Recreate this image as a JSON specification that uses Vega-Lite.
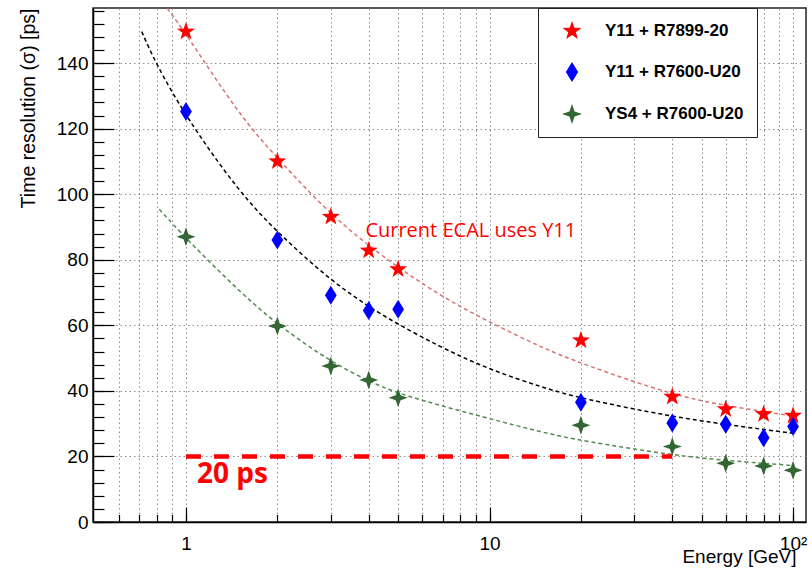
{
  "$schema": "https://vega.github.io/schema/vega-lite/v6.json",
  "width": 713,
  "height": 514,
  "autosize": {"type": "none"},
  "padding": {"left": 93, "top": 8, "right": 6, "bottom": 47},
  "background": "white",
  "config": {
    "font": "Liberation Sans",
    "view": {"stroke": "#222222", "strokeWidth": 1.5},
    "axis": {
      "domainColor": "#000000",
      "domainWidth": 1.5,
      "tickColor": "#000000",
      "tickWidth": 1.2,
      "labelColor": "#000000",
      "titleColor": "#000000",
      "gridColor": "#8c8c8c",
      "gridDash": [1.5, 3],
      "gridWidth": 1,
      "labelFont": "Liberation Sans",
      "titleFont": "Liberation Sans",
      "titleFontWeight": "normal",
      "labelFlush": false,
      "labelOverlap": false
    },
    "legend": {
      "orient": "none",
      "legendX": 445,
      "legendY": 0,
      "fillColor": "white",
      "strokeColor": "#222222",
      "padding": 13,
      "rowPadding": 22,
      "symbolSize": 400,
      "symbolOffset": 11,
      "labelOffset": 23,
      "symbolStrokeWidth": 0,
      "labelFont": "Liberation Sans",
      "labelFontSize": 17,
      "labelFontWeight": "bold",
      "labelColor": "#000000"
    }
  },
  "datasets": {
    "meas": [
      {"series": "Y11 + R7899-20", "energy": 1, "sigma": 149.6},
      {"series": "Y11 + R7899-20", "energy": 2, "sigma": 110},
      {"series": "Y11 + R7899-20", "energy": 3, "sigma": 93.1},
      {"series": "Y11 + R7899-20", "energy": 4, "sigma": 82.8},
      {"series": "Y11 + R7899-20", "energy": 5, "sigma": 77.1},
      {"series": "Y11 + R7899-20", "energy": 20, "sigma": 55.4},
      {"series": "Y11 + R7899-20", "energy": 40, "sigma": 38.2},
      {"series": "Y11 + R7899-20", "energy": 60, "sigma": 34.4},
      {"series": "Y11 + R7899-20", "energy": 80, "sigma": 32.9},
      {"series": "Y11 + R7899-20", "energy": 100, "sigma": 32.4},
      {"series": "Y11 + R7600-U20", "energy": 1, "sigma": 125.2},
      {"series": "Y11 + R7600-U20", "energy": 2, "sigma": 86},
      {"series": "Y11 + R7600-U20", "energy": 3, "sigma": 69.2},
      {"series": "Y11 + R7600-U20", "energy": 4, "sigma": 64.5},
      {"series": "Y11 + R7600-U20", "energy": 5, "sigma": 64.9},
      {"series": "Y11 + R7600-U20", "energy": 20, "sigma": 36.5},
      {"series": "Y11 + R7600-U20", "energy": 40, "sigma": 30.2},
      {"series": "Y11 + R7600-U20", "energy": 60, "sigma": 29.8},
      {"series": "Y11 + R7600-U20", "energy": 80, "sigma": 25.7},
      {"series": "Y11 + R7600-U20", "energy": 100, "sigma": 29.1},
      {"series": "YS4 + R7600-U20", "energy": 1, "sigma": 87},
      {"series": "YS4 + R7600-U20", "energy": 2, "sigma": 59.8},
      {"series": "YS4 + R7600-U20", "energy": 3, "sigma": 47.6},
      {"series": "YS4 + R7600-U20", "energy": 4, "sigma": 43.3},
      {"series": "YS4 + R7600-U20", "energy": 5, "sigma": 37.9},
      {"series": "YS4 + R7600-U20", "energy": 20, "sigma": 29.5},
      {"series": "YS4 + R7600-U20", "energy": 40, "sigma": 23},
      {"series": "YS4 + R7600-U20", "energy": 60, "sigma": 17.9},
      {"series": "YS4 + R7600-U20", "energy": 80, "sigma": 17.1},
      {"series": "YS4 + R7600-U20", "energy": 100, "sigma": 15.8}
    ],
    "fits": [
      {"series": "Y11 + R7899-20", "energy": 0.868, "sigma": 156.7},
      {"series": "Y11 + R7899-20", "energy": 1, "sigma": 149},
      {"series": "Y11 + R7899-20", "energy": 1.5, "sigma": 124},
      {"series": "Y11 + R7899-20", "energy": 2, "sigma": 111},
      {"series": "Y11 + R7899-20", "energy": 3, "sigma": 93.5},
      {"series": "Y11 + R7899-20", "energy": 4.5, "sigma": 80.5},
      {"series": "Y11 + R7899-20", "energy": 7, "sigma": 68.5},
      {"series": "Y11 + R7899-20", "energy": 10, "sigma": 61},
      {"series": "Y11 + R7899-20", "energy": 15, "sigma": 53},
      {"series": "Y11 + R7899-20", "energy": 20, "sigma": 48.4},
      {"series": "Y11 + R7899-20", "energy": 40, "sigma": 38.7},
      {"series": "Y11 + R7899-20", "energy": 60, "sigma": 35.5},
      {"series": "Y11 + R7899-20", "energy": 80, "sigma": 33.7},
      {"series": "Y11 + R7899-20", "energy": 100, "sigma": 32.3},
      {"series": "Y11 + R7600-U20", "energy": 0.715, "sigma": 149.6},
      {"series": "Y11 + R7600-U20", "energy": 0.79, "sigma": 140.4},
      {"series": "Y11 + R7600-U20", "energy": 1, "sigma": 123.5},
      {"series": "Y11 + R7600-U20", "energy": 1.5, "sigma": 100.5},
      {"series": "Y11 + R7600-U20", "energy": 2, "sigma": 88.4},
      {"series": "Y11 + R7600-U20", "energy": 3, "sigma": 73.5},
      {"series": "Y11 + R7600-U20", "energy": 4.4, "sigma": 63},
      {"series": "Y11 + R7600-U20", "energy": 7, "sigma": 53},
      {"series": "Y11 + R7600-U20", "energy": 10, "sigma": 46.5},
      {"series": "Y11 + R7600-U20", "energy": 15, "sigma": 41},
      {"series": "Y11 + R7600-U20", "energy": 20, "sigma": 37.7},
      {"series": "Y11 + R7600-U20", "energy": 40, "sigma": 32.1},
      {"series": "Y11 + R7600-U20", "energy": 60, "sigma": 29.8},
      {"series": "Y11 + R7600-U20", "energy": 80, "sigma": 28.2},
      {"series": "Y11 + R7600-U20", "energy": 100, "sigma": 27.1},
      {"series": "YS4 + R7600-U20", "energy": 0.817, "sigma": 95.4},
      {"series": "YS4 + R7600-U20", "energy": 1, "sigma": 86.5},
      {"series": "YS4 + R7600-U20", "energy": 1.5, "sigma": 70.3},
      {"series": "YS4 + R7600-U20", "energy": 2, "sigma": 60.2},
      {"series": "YS4 + R7600-U20", "energy": 3, "sigma": 48.8},
      {"series": "YS4 + R7600-U20", "energy": 4, "sigma": 43},
      {"series": "YS4 + R7600-U20", "energy": 5, "sigma": 39},
      {"series": "YS4 + R7600-U20", "energy": 10, "sigma": 31.5},
      {"series": "YS4 + R7600-U20", "energy": 15, "sigma": 27.3},
      {"series": "YS4 + R7600-U20", "energy": 20, "sigma": 24.8},
      {"series": "YS4 + R7600-U20", "energy": 40, "sigma": 20.4},
      {"series": "YS4 + R7600-U20", "energy": 60, "sigma": 18.8},
      {"series": "YS4 + R7600-U20", "energy": 80, "sigma": 17.9},
      {"series": "YS4 + R7600-U20", "energy": 100, "sigma": 17.2}
    ]
  },
  "resolve": {"axis": {"x": "independent", "y": "independent"}},
  "layer": [
    {
      "data": {"name": "fits"},
      "transform": [{"filter": "datum.series === 'Y11 + R7899-20'"}],
      "mark": {"type": "line", "strokeDash": [4, 3], "strokeWidth": 1.5, "interpolate": "basis", "color": "#d97373"},
      "encoding": {
        "x": {
          "field": "energy", "type": "quantitative",
          "scale": {"type": "log", "domain": [0.494, 110.3], "nice": false},
          "axis": {
            "orient": "bottom",
            "values": [0.6, 0.7, 0.8, 0.9, 1, 2, 3, 4, 5, 6, 7, 8, 9, 10, 20, 30, 40, 50, 60, 70, 80, 90, 100],
            "tickSize": -7.5, "grid": true, "labels": false, "title": null, "domain": true
          }
        },
        "y": {
          "field": "sigma", "type": "quantitative",
          "scale": {"domain": [0, 156.8], "nice": false, "zero": false},
          "axis": {
            "orient": "left",
            "values": [0, 4, 8, 12, 16, 20, 24, 28, 32, 36, 40, 44, 48, 52, 56, 60, 64, 68, 72, 76, 80, 84, 88, 92, 96, 100, 104, 108, 112, 116, 120, 124, 128, 132, 136, 140, 144, 148, 152, 156],
            "tickSize": -11, "grid": false, "labels": false, "title": null, "domain": true
          }
        }
      }
    },
    {
      "data": {"name": "fits"},
      "transform": [{"filter": "datum.series === 'Y11 + R7600-U20'"}],
      "mark": {"type": "line", "strokeDash": [4, 3], "strokeWidth": 1.5, "interpolate": "basis", "color": "#000000"},
      "encoding": {
        "x": {"field": "energy", "type": "quantitative", "scale": {"type": "log", "domain": [0.494, 110.3], "nice": false}, "axis": null},
        "y": {"field": "sigma", "type": "quantitative", "scale": {"domain": [0, 156.8], "nice": false, "zero": false}, "axis": null}
      }
    },
    {
      "data": {"name": "fits"},
      "transform": [{"filter": "datum.series === 'YS4 + R7600-U20'"}],
      "mark": {"type": "line", "strokeDash": [4, 3], "strokeWidth": 1.5, "interpolate": "basis", "color": "#4f8a4f"},
      "encoding": {
        "x": {"field": "energy", "type": "quantitative", "scale": {"type": "log", "domain": [0.494, 110.3], "nice": false}, "axis": null},
        "y": {"field": "sigma", "type": "quantitative", "scale": {"domain": [0, 156.8], "nice": false, "zero": false}, "axis": null}
      }
    },
    {
      "data": {"values": [{"from": 1, "to": 40, "level": 20}]},
      "mark": {"type": "rule", "color": "#ff0000", "strokeWidth": 4.5, "strokeDash": [15, 13]},
      "encoding": {
        "x": {"field": "from", "type": "quantitative", "scale": {"type": "log", "domain": [0.494, 110.3], "nice": false}, "axis": null},
        "x2": {"field": "to"},
        "y": {"field": "level", "type": "quantitative", "scale": {"domain": [0, 156.8], "nice": false, "zero": false}, "axis": null}
      }
    },
    {
      "data": {"name": "meas"},
      "mark": {"type": "point", "filled": true, "opacity": 1, "size": 360, "strokeWidth": 0},
      "encoding": {
        "x": {
          "field": "energy", "type": "quantitative",
          "scale": {"type": "log", "domain": [0.494, 110.3], "nice": false},
          "axis": {
            "orient": "bottom", "values": [1, 10, 100],
            "tickSize": -15, "grid": false, "domain": false,
            "labelExpr": "datum.value >= 100 ? '10²' : format(datum.value, 'd')",
            "labelFontSize": 19, "labelPadding": 27,
            "title": "Energy [GeV]", "titleFontSize": 19,
            "titleAnchor": "end", "titleAlign": "right", "titleBaseline": "alphabetic",
            "titleX": 703, "titleY": 40
          }
        },
        "y": {
          "field": "sigma", "type": "quantitative",
          "scale": {"domain": [0, 156.8], "nice": false, "zero": false},
          "axis": {
            "orient": "left", "values": [0, 20, 40, 60, 80, 100, 120, 140],
            "tickSize": -21, "grid": true, "domain": false,
            "labelFontSize": 19, "labelPadding": 26,
            "title": "Time resolution (σ) [ps]", "titleFontSize": 19.5,
            "titleAngle": -90, "titleAnchor": "end", "titleAlign": "right", "titleBaseline": "alphabetic",
            "titleX": -59, "titleY": 0
          }
        },
        "color": {
          "field": "series", "type": "nominal",
          "scale": {"domain": ["Y11 + R7899-20", "Y11 + R7600-U20", "YS4 + R7600-U20"], "range": ["#ff0000", "#0000ff", "#336633"]},
          "legend": {"title": null, "labelExpr": "datum.label + '        '"}
        },
        "shape": {
          "field": "series", "type": "nominal",
          "scale": {
            "domain": ["Y11 + R7899-20", "Y11 + R7600-U20", "YS4 + R7600-U20"],
            "range": [
              "M0,-1L0.235,-0.324L0.951,-0.309L0.38,0.124L0.588,0.809L0,0.4L-0.588,0.809L-0.38,0.124L-0.951,-0.309L-0.235,-0.324Z",
              "M0,-1L0.62,0L0,1L-0.62,0Z",
              "M0,-1L0.26,-0.26L1,0L0.26,0.26L0,1L-0.26,0.26L-1,0L-0.26,-0.26Z"
            ]
          },
          "legend": {"title": null, "labelExpr": "datum.label + '        '"}
        }
      }
    },
    {
      "data": {"values": [{"energy": 1.087, "sigma": 11.9, "note": "20 ps"}]},
      "mark": {"type": "text", "align": "left", "baseline": "alphabetic", "font": "Open Sans", "fontSize": 28, "fontWeight": "bold", "color": "#ff0000"},
      "encoding": {
        "x": {"field": "energy", "type": "quantitative", "scale": {"type": "log", "domain": [0.494, 110.3], "nice": false}, "axis": null},
        "y": {"field": "sigma", "type": "quantitative", "scale": {"domain": [0, 156.8], "nice": false, "zero": false}, "axis": null},
        "text": {"field": "note"}
      }
    },
    {
      "data": {"values": [{"energy": 3.9, "sigma": 86.9, "note": "Current ECAL uses Y11"}]},
      "mark": {"type": "text", "align": "left", "baseline": "alphabetic", "font": "Open Sans", "fontSize": 20, "color": "#ff0000"},
      "encoding": {
        "x": {"field": "energy", "type": "quantitative", "scale": {"type": "log", "domain": [0.494, 110.3], "nice": false}, "axis": null},
        "y": {"field": "sigma", "type": "quantitative", "scale": {"domain": [0, 156.8], "nice": false, "zero": false}, "axis": null},
        "text": {"field": "note"}
      }
    }
  ]
}
